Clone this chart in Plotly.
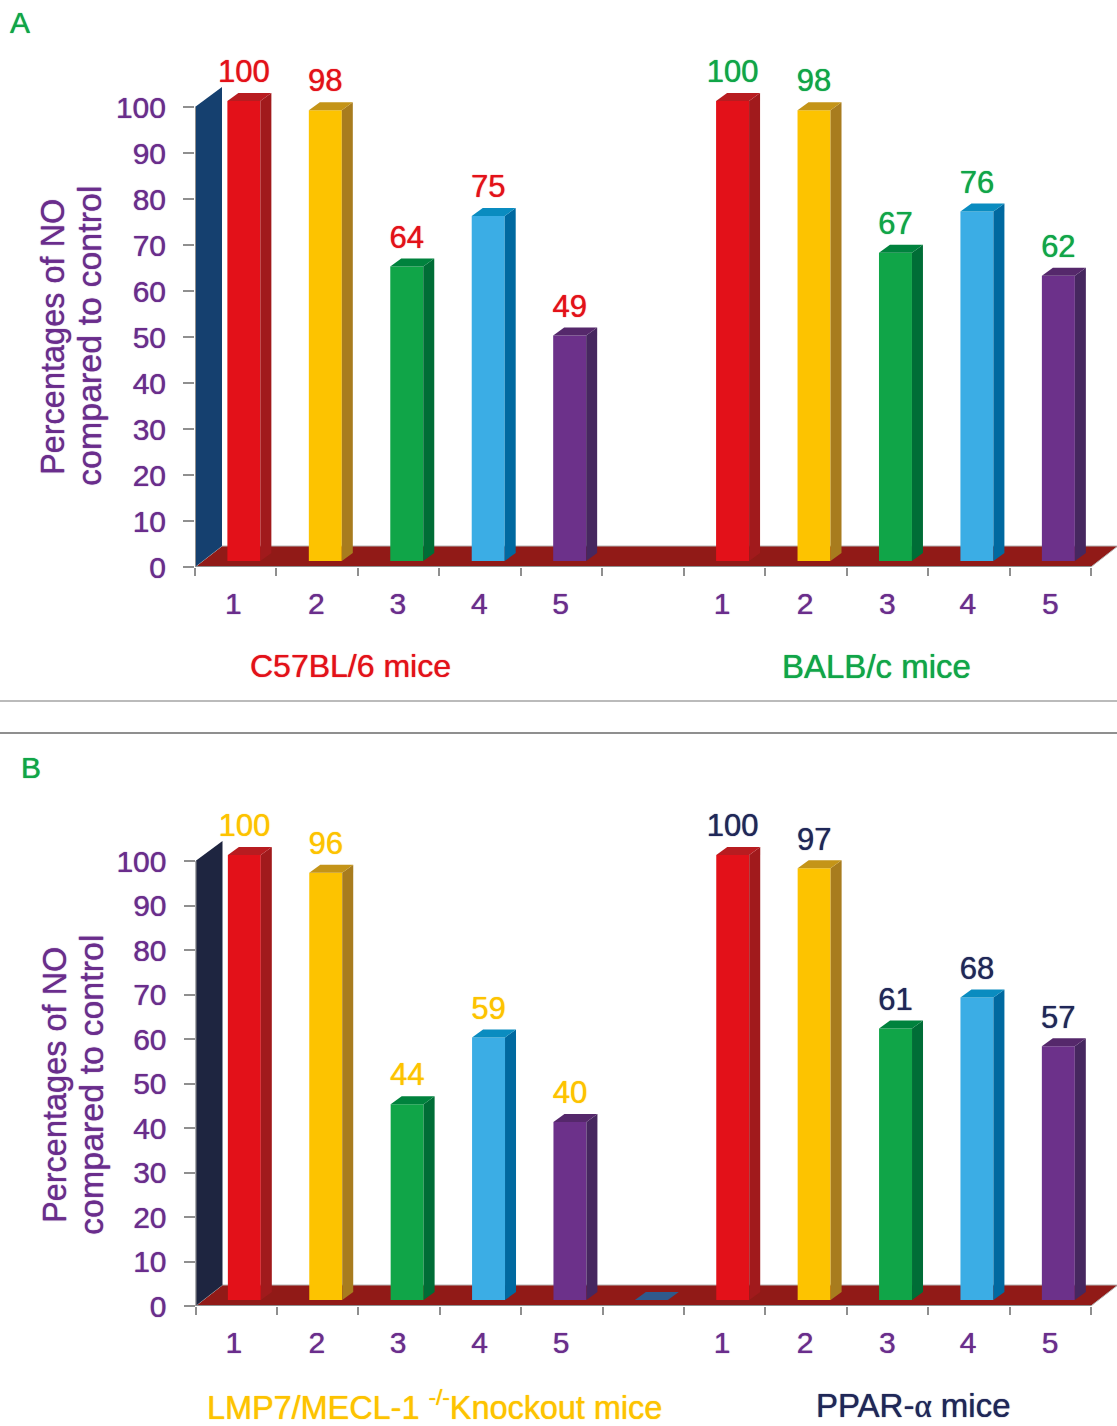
import plotly.graph_objects as go

# Nitric oxide levels per mouse strain, as a percentage of control
bar_labels = ["1", "2", "3", "4", "5"]
c57bl6_values = [100, 98, 64, 75, 49]
balbc_values = [100, 98, 67, 76, 62]
lmp7_values = [100, 96, 44, 59, 40]
ppar_values = [100, 97, 61, 68, 57]
empty_slot_value = [0]
y_ticks = [0, 10, 20, 30, 40, 50, 60, 70, 80, 90, 100]

left_slots = [0.6, 1.6, 2.6, 3.6, 4.6]
right_slots = [6.6, 7.6, 8.6, 9.6, 10.6]
left_label_slots = [0.47, 1.49, 2.49, 3.49, 4.49]
right_label_slots = [6.47, 7.49, 8.5, 9.49, 10.5]

W, H = 1117, 1426
FONT = "Liberation Sans"
PURPLE = "#6a2d8c"
RED = "#e31119"
GREEN = "#10a548"
YELLOW = "#fdc300"
NAVY = "#1f2758"
GRAY = "#8f8f8f"
FLOOR = "#911a17"

# front, side and top shades of the five bar colours
FACES = [
    ("#e31119", "#a11a1c", "#b81c20"),
    ("#fdc300", "#a87c1e", "#c49418"),
    ("#10a548", "#006d36", "#00823d"),
    ("#3bade5", "#0069a0", "#0a8cc0"),
    ("#6c318a", "#46275f", "#55286b"),
]
EMPTY_FACE = ("#2f5a8c", "#2f5a8c", "#2f5a8c")

BAR_WIDTH = 0.405


def text_font(size, color):
    # a faint same-colour halo gives the lettering its heavier weight
    return dict(family=FONT, size=size, color=color, shadow=f"0 0 1px {color}")


def px_text(text, px, py, size, color, angle=0):
    return dict(text=text, xref="paper", yref="paper", x=px / W, y=1 - py / H,
                xanchor="center", yanchor="middle", showarrow=False, textangle=angle,
                font=text_font(size, color))


def polygon(fig, xs, ys, color, axes):
    fig.add_trace(go.Scatter(x=xs, y=ys, mode="lines", fill="toself", fillcolor=color,
                             line=dict(color=color, width=0),
                             hoverinfo="skip", showlegend=False, cliponaxis=False, **axes))


def backdrop(xs, ys, color, xref, yref, line_color=None):
    """Closed shape under the traces, so the bar faces sit on top of it."""
    path = "M " + " L ".join(f"{x:.4f},{y:.4f}" for x, y in zip(xs, ys)) + " Z"
    return dict(type="path", path=path, xref=xref, yref=yref, layer="below", fillcolor=color,
                line=dict(color=line_color or color, width=1 if line_color else 0))


def add_panel(fig, axes, unit_x, unit_y, wall_color, groups, empty_slots=()):
    """Floor, back wall, extruded bars and value labels for one panel."""
    base = 6 / unit_y
    bar_dx, bar_dy = 11 / unit_x, 8 / unit_y
    floor_dx, floor_dy = 27 / unit_x, 21 / unit_y

    fig.add_shape(backdrop([0, floor_dx, 11 + floor_dx, 11], [0, floor_dy, floor_dy, 0],
                           FLOOR, axes["xaxis"], axes["yaxis"], line_color="#b5b5b5"))
    fig.add_shape(backdrop([0, 0, floor_dx, floor_dx], [0, 100, 100 + 20 / unit_y, floor_dy],
                           wall_color, axes["xaxis"], axes["yaxis"]))

    def extrude(slot, value, faces):
        left = slot - BAR_WIDTH / 2
        right = slot + BAR_WIDTH / 2
        top = base + value
        polygon(fig, [right, right + bar_dx, right + bar_dx, right, right],
                [base, base + bar_dy, top + bar_dy, top, base], faces[1], axes)
        polygon(fig, [left, left + bar_dx, right + bar_dx, right, left],
                [top, top + bar_dy, top + bar_dy, top, top], faces[2], axes)

    for slots, values, label_color in groups:
        for i, (slot, value) in enumerate(zip(slots, values)):
            extrude(slot, value, FACES[i])
        fig.add_trace(go.Bar(x=slots, y=values, base=base, width=BAR_WIDTH,
                             marker=dict(color=[f[0] for f in FACES], line=dict(width=0)),
                             hoverinfo="skip", showlegend=False, **axes))
        fig.add_trace(go.Scatter(x=slots, y=[v + base + 26.5 / unit_y for v in values],
                                 mode="text", text=[str(v) for v in values],
                                 textposition="middle center", cliponaxis=False,
                                 textfont=text_font(31, label_color),
                                 hoverinfo="skip", showlegend=False, **axes))

    for slot, value in empty_slots:
        extrude(slot, value, EMPTY_FACE)

    # axis lines stop at the last tick, short of the floor's far corner
    for xs, ys in (([0, 11], [0, 0]), ([0, 0], [0, 100])):
        fig.add_trace(go.Scatter(x=xs, y=ys, mode="lines", line=dict(color=GRAY, width=2),
                                 hoverinfo="skip", showlegend=False, cliponaxis=False, **axes))


def axis_pair(origin_px, unit_x, zero_py, unit_y, top_py):
    xaxis = dict(
        domain=[origin_px / W, 1], range=[0, (W - origin_px) / unit_x], automargin=False,
        tickmode="array", tickvals=left_label_slots + right_label_slots,
        ticktext=bar_labels + bar_labels, ticks="", ticklabelstandoff=16,
        tickfont=text_font(30, PURPLE),
        showgrid=False, zeroline=False, showline=False,
        minor=dict(tickmode="array", tickvals=list(range(12)), ticks="outside",
                   ticklen=8, tickwidth=2, tickcolor=GRAY, showgrid=False),
    )
    yaxis = dict(
        domain=[1 - zero_py / H, 1 - top_py / H], range=[0, (zero_py - top_py) / unit_y],
        automargin=False,
        tickmode="array", tickvals=y_ticks, ticks="outside", ticklen=11, tickwidth=2,
        tickcolor=GRAY, ticklabelstandoff=11,
        tickfont=text_font(30, PURPLE),
        showgrid=False, zeroline=False, showline=False,
    )
    return xaxis, yaxis


fig = go.Figure()

add_panel(fig, dict(xaxis="x", yaxis="y"), 81.45, 4.6, "#15406f",
          [(left_slots, c57bl6_values, RED), (right_slots, balbc_values, GREEN)])
add_panel(fig, dict(xaxis="x2", yaxis="y2"), 81.4, 4.45, "#1e2540",
          [(left_slots, lmp7_values, YELLOW), (right_slots, ppar_values, NAVY)],
          empty_slots=[(5.6, empty_slot_value[0])])

xa, ya = axis_pair(195, 81.45, 567, 4.6, 40)
xb, yb = axis_pair(195.5, 81.4, 1306, 4.45, 790)
xb["anchor"] = "y2"
yb["anchor"] = "x2"
xa["anchor"] = "y"
ya["anchor"] = "x"

annotations = [
    px_text("A", 20, 23, 30, GREEN),
    px_text("B", 31, 767, 30, GREEN),
    px_text("Percentages of NO", 53, 337, 32.5, PURPLE, -90),
    px_text("compared to control", 89, 336, 34, PURPLE, -90),
    px_text("Percentages of NO", 55, 1085, 32.5, PURPLE, -90),
    px_text("compared to control", 91, 1085, 34, PURPLE, -90),
    px_text("C57BL/6 mice", 350, 666, 32, RED),
    px_text("BALB/c mice", 876, 666, 33, GREEN),
    px_text("LMP7/MECL-1 <sup>-/-</sup>Knockout mice", 434, 1405, 32.4, YELLOW),
    px_text('PPAR-<span style="font-family:Liberation Serif">α</span> mice', 913, 1405, 33, NAVY),
]

separators = [
    dict(type="line", xref="paper", yref="paper", x0=0, x1=1, y0=1 - 701 / H, y1=1 - 701 / H,
         line=dict(color="#a5a5a5", width=1.5)),
    dict(type="line", xref="paper", yref="paper", x0=0, x1=1, y0=1 - 733 / H, y1=1 - 733 / H,
         line=dict(color="#8f8f8f", width=2)),
]
for separator in separators:
    fig.add_shape(separator)

fig.update_layout(
    width=W, height=H, autosize=False,
    margin=dict(l=0, r=0, t=0, b=0, pad=0),
    paper_bgcolor="white", plot_bgcolor="white",
    barmode="overlay", showlegend=False,
    xaxis=xa, yaxis=ya, xaxis2=xb, yaxis2=yb,
    annotations=annotations,
)

fig.write_html("out.html", config=dict(displayModeBar=False))
